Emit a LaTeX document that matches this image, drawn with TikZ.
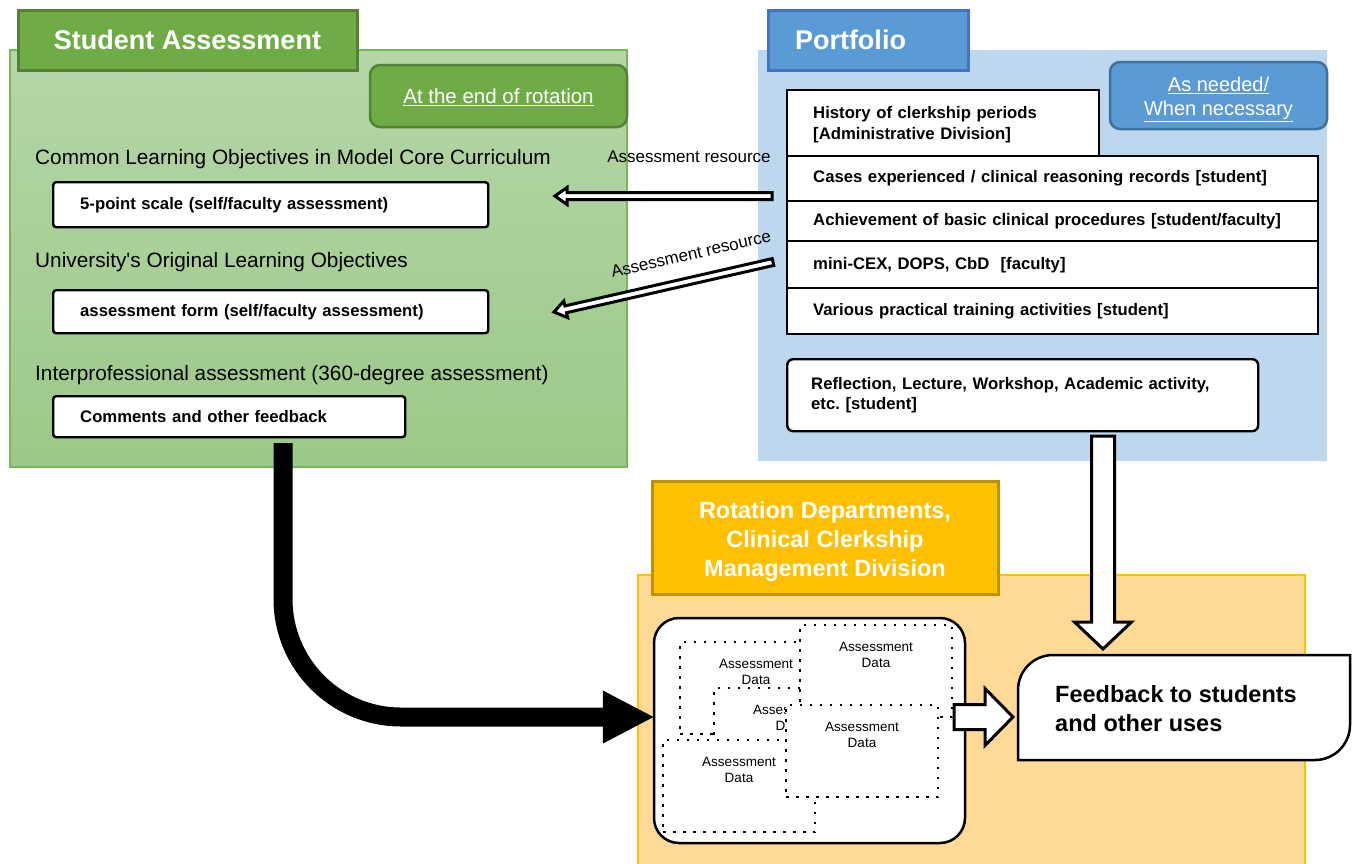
\documentclass[tikz,border=0pt]{standalone}
\usepackage{fontspec}
\setmainfont{Liberation Sans}[Ligatures=TeXOff]
\usetikzlibrary{calc,arrows.meta,positioning}
\frenchspacing

\definecolor{sagreen}{HTML}{6FAC46}
\definecolor{sagreendark}{HTML}{548235}
\definecolor{salight}{HTML}{B5D6A7}
\definecolor{samid}{HTML}{9CC987}
\definecolor{saedge}{HTML}{7AB55A}
\definecolor{pfblue}{HTML}{5B9BD5}
\definecolor{pfbluedark}{HTML}{4472C4}
\definecolor{pfedge}{HTML}{41719C}
\definecolor{pflight}{HTML}{BDD7EE}
\definecolor{deorange}{HTML}{FFC000}
\definecolor{deorangedark}{HTML}{BF9000}
\definecolor{delight}{HTML}{FFD996}

% hollow block arrow: from, to, half shaft, half head, head length
\newcommand{\fatarrow}[5]{%
  \coordinate (fahead) at ($(#2)!#5!(#1)$);
  \draw[hollowarrow] ($(#1)!#3!90:(#2)$) -- ($(fahead)!#3!90:(#2)$) -- ($(fahead)!#4!90:(#2)$) -- (#2)
    -- ($(fahead)!#4!-90:(#2)$) -- ($(fahead)!#3!-90:(#2)$) -- ($(#1)!#3!-90:(#2)$) -- cycle;}

\tikzset{
  panel/.style={inner sep=0pt, outer sep=0pt},
  headbox/.style={draw, line width=3pt, text=white, inner sep=0pt, align=center, font=\bfseries\fontsize{27}{32}\selectfont},
  tagbox/.style={draw, line width=2.5pt, rounded corners=10pt, text=white, inner sep=0pt, align=center, font=\fontsize{20.5}{24}\selectfont},
  objective/.style={anchor=west, inner sep=0pt, font=\fontsize{20.8}{24}\selectfont},
  itembox/.style={draw, line width=2.4pt, fill=white, rounded corners=3pt, anchor=north west, inner xsep=27pt, inner ysep=0pt, align=left, font=\bfseries\fontsize{16.7}{20.5}\selectfont},
  rowbox/.style={itembox, sharp corners, text width=479pt, inner xsep=26pt},
  datacard/.style={draw, fill=white, line width=2.5pt, dash pattern=on 2.5pt off 7.5pt, minimum width=152pt, minimum height=92pt, inner sep=0pt},
  cardtext/.style={inner sep=0pt, align=center, font=\fontsize{13.5}{16.5}\selectfont},
  hollowarrow/.style={draw=black, fill=white, line width=3pt, line join=miter},
  restext/.style={inner sep=0pt, font=\fontsize{17}{20}\selectfont},
  bigarrow/.style={line width=19pt, rounded corners=118pt, -{Triangle[length=52pt,width=49pt]}},
  fbline/.style={draw, fill=white, line width=2.5pt}
}

\begin{document}
\begin{tikzpicture}[x=1pt,y=-1pt]
    \useasboundingbox (0,0) rectangle (1353,863);
    % student assessment
    \node[panel, draw=saedge, line width=1.5pt, top color=salight, bottom color=samid, minimum width=617pt, minimum height=417pt] (sapanel) at (318.5,258.5) {};
    \node[headbox, fill=sagreen, draw=sagreendark, minimum width=339pt, minimum height=60pt] (sahead) at (187.5,40) {Student Assessment};
    \node[tagbox, fill=sagreen, draw=sagreendark, minimum width=257pt, minimum height=62pt] (rotbox) at (498.5,96) {\rule{0pt}{17pt}\underline{At the end of rotation}};
    \node[objective] (coreobj) at (35,159) {Common Learning Objectives in Model Core Curriculum};
    \node[itembox, text width=381pt, minimum height=45pt] (scale) at (52,181) {5-point scale (self/faculty assessment)};
    \node[objective] (uniobj) at (35,262) {University's Original Learning Objectives};
    \node[itembox, text width=381pt, minimum height=43pt] (form) at (52,289) {assessment form (self/faculty assessment)};
    \node[objective] (ipobj) at (35,375) {Interprofessional assessment (360-degree assessment)};
    \node[itembox, text width=298pt, minimum height=41pt] (comments) at (52,395) {Comments and other feedback};

    % portfolio
    \node[panel, fill=pflight, minimum width=569pt, minimum height=411pt] (pfpanel) at (1042.5,255.5) {};
    \node[headbox, fill=pfblue, draw=pfbluedark, minimum width=200pt, minimum height=60pt, text width=146pt, inner xsep=27pt, align=left] (pfhead) at (868,40) {Portfolio};
    \node[tagbox, fill=pfblue, draw=pfedge, minimum width=217pt, minimum height=67pt, font=\fontsize{20}{24}\selectfont] (needbox) at (1218.5,95.5) {\rule{0pt}{22.5pt}\underline{As needed/}\\\underline{When necessary}};
    \node[itembox, sharp corners, text width=260pt, inner xsep=26pt, minimum height=66pt] (history) at (786,89) {\rule{0pt}{15pt}History of clerkship periods\\{}[Administrative Division]};
    \node[rowbox, minimum height=45pt] (cases) at (786,155) {Cases experienced / clinical reasoning records [student]};
    \node[rowbox, minimum height=40pt] (skills) at (786,200) {Achievement of basic clinical procedures [student/faculty]};
    \node[rowbox, minimum height=47pt] (minicex) at (786,240) {mini-CEX, DOPS, CbD~~[faculty]};
    \node[rowbox, minimum height=46pt] (activities) at (786,287) {Various practical training activities [student]};
    \node[itembox, rounded corners=6pt, text width=423pt, inner xsep=24pt, minimum height=72pt] (reflect) at (786,358) {Reflection, Lecture, Workshop, Academic activity,\\etc. [student]};

    % departments
    \node[panel, draw=deorange, line width=1.5pt, fill=delight, minimum width=667pt, minimum height=294pt] (depanel) at (971.5,722) {};
    \node[headbox, fill=deorange, draw=deorangedark, minimum width=346pt, minimum height=113pt, font=\bfseries\fontsize{23.5}{29}\selectfont] (dehead) at (825,537.5) {\rule{0pt}{25pt}Rotation Departments,\\Clinical Clerkship\\Management Division};
    \node[draw, fill=white, line width=2.5pt, rounded corners=25pt, minimum width=311pt, minimum height=225pt] (databox) at (809.5,730.5) {};
    \foreach \nm/\cx/\cy in {A/756/688, C/790/734, B/876/671, E/739/786, D/862/751}
        {
            \node[datacard] (card\nm) at (\cx,\cy) {};
            \node[cardtext] (cardtext\nm) at (\cx,\cy-16) {Assessment\\Data};
        }

    % feedback
    \node[panel, minimum width=332pt, minimum height=105pt] (feedback) at (1184,707.5) {};
    \draw[fbline] (feedback.north east) -- ($(feedback.north west)+(35,0)$)
        .. controls ($(feedback.north west)+(15.7,0)$) and ($(feedback.north west)+(0,15.7)$) .. ($(feedback.north west)+(0,35)$)
        -- (feedback.south west) -- ($(feedback.south east)+(-35,0)$)
        .. controls ($(feedback.south east)+(-15.7,0)$) and ($(feedback.south east)+(0,-15.7)$) .. ($(feedback.south east)+(0,-35)$) -- cycle;
    \node[anchor=west, inner sep=0pt, align=left, font=\bfseries\fontsize{23.5}{29}\selectfont] (fbtext) at ([xshift=37pt,yshift=-1pt]feedback.west) {Feedback to students\\and other uses};

    % connectors
    \node[restext] (res1label) at (689,157) {Assessment resource};
    \node[restext, rotate=12.7] (res2label) at (691,254) {Assessment resource};
    \coordinate (res1from) at (772,196);
    \coordinate (res1to) at (555,196);
    \coordinate (res2from) at (773,262);
    \coordinate (res2to) at (554,312);
    \fatarrow{res1from}{res1to}{3.5pt}{8.5pt}{12pt}
    \fatarrow{res2from}{res2to}{3.5pt}{8.5pt}{12pt}
    \coordinate (pfout) at (1103,436);
    \coordinate (fbin) at (1103,649);
    \fatarrow{pfout}{fbin}{11.5pt}{28.5pt}{27pt}
    \coordinate (dataout) at (954,717);
    \coordinate (fbleft) at (1013,717);
    \fatarrow{dataout}{fbleft}{12.5pt}{28.5pt}{28pt}
    \coordinate (saout) at (283,443);
    \coordinate (datain) at ($(databox.west)+(2,-13.5)$);
    \draw[bigarrow] (saout) |- (datain);
\end{tikzpicture}
\end{document}
